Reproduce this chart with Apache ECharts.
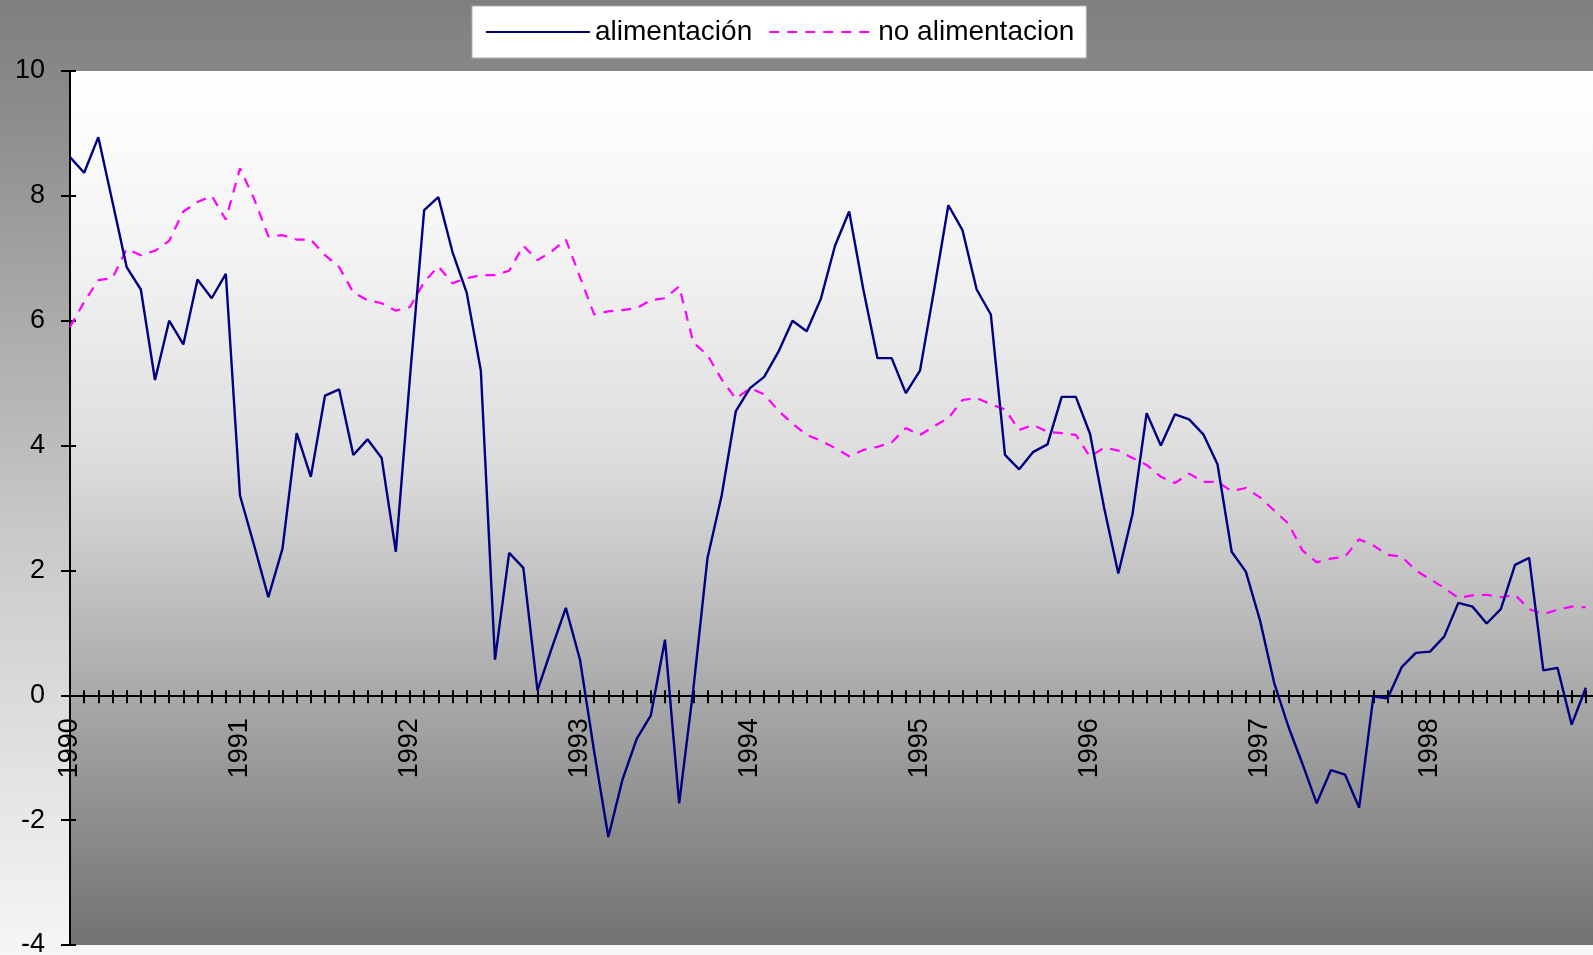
<!DOCTYPE html>
<html>
<head>
<meta charset="utf-8">
<script src="https://cdn.jsdelivr.net/npm/echarts@6/dist/echarts.min.js"></script>
<style>
html,body{margin:0;padding:0;}
#chart{width:1593px;height:955px;background:linear-gradient(to bottom,#7f7f7f 0%,#8a8a8a 10%,#c8c8c8 55%,#f6f6f6 100%);}
</style>
</head>
<body>
<div id="chart"></div>
<script>
// Monthly categories Jan 1990 .. Jan 1999 (last one only closes the axis)
const years = [1990,1991,1992,1993,1994,1995,1996,1997,1998,1999];
const months = [];
for (const y of years) { for (let m = 1; m <= 12; m++) { if (y === 1999 && m > 1) break; months.push(y + '-' + (m < 10 ? '0' + m : m)); } }

const alimentacion = [
  8.62, 8.37, 8.94, 7.9, 6.86, 6.5, 5.05, 6.0, 5.62, 6.66, 6.36, 6.75,
  3.2, 2.4, 1.57, 2.35, 4.2, 3.5, 4.8, 4.9, 3.85, 4.1, 3.8, 2.3,
  5.1, 7.77, 7.98, 7.1, 6.45, 5.2, 0.57, 2.28, 2.04, 0.08, 0.75, 1.4,
  0.57, -0.9, -2.27, -1.35, -0.7, -0.32, 0.89, -1.73, 0.1, 2.2, 3.2, 4.55,
  4.92, 5.1, 5.5, 6.0, 5.83, 6.35, 7.2, 7.75, 6.5, 5.4, 5.4, 4.84,
  5.2, 6.5, 7.85, 7.45, 6.5, 6.1, 3.85, 3.62, 3.9, 4.02, 4.78, 4.78,
  4.19, 3.0, 1.95, 2.9, 4.52, 4.0, 4.5, 4.42, 4.18, 3.7, 2.3, 1.98,
  1.2, 0.2, -0.5, -1.1, -1.73, -1.2, -1.27, -1.8, -0.02, -0.05, 0.45, 0.68,
  0.70, 0.94, 1.48, 1.42, 1.15, 1.38, 2.09, 2.2, 0.4, 0.44, -0.47, 0.12
];
const noAlimentacion = [
  5.9, 6.3, 6.65, 6.68, 7.15, 7.05, 7.12, 7.28, 7.75, 7.9, 8.0, 7.62,
  8.44, 7.95, 7.35, 7.37, 7.3, 7.3, 7.05, 6.86, 6.45, 6.33, 6.28, 6.16,
  6.22, 6.62, 6.87, 6.6, 6.68, 6.73, 6.73, 6.8, 7.2, 6.97, 7.11, 7.3,
  6.7, 6.1, 6.15, 6.17, 6.2, 6.33, 6.36, 6.55, 5.65, 5.45, 5.06, 4.75,
  4.92, 4.82, 4.56, 4.35, 4.17, 4.08, 3.96, 3.83, 3.93, 3.98, 4.05, 4.28,
  4.17, 4.31, 4.44, 4.73, 4.76, 4.66, 4.58, 4.25, 4.33, 4.22, 4.2, 4.17,
  3.82, 3.97, 3.92, 3.8, 3.69, 3.5, 3.4, 3.55, 3.42, 3.42, 3.27, 3.32,
  3.17, 2.96, 2.75, 2.32, 2.13, 2.19, 2.22, 2.5, 2.4, 2.25, 2.22, 2.0,
  1.86, 1.72, 1.56, 1.6, 1.61, 1.57, 1.61, 1.38, 1.3, 1.37, 1.42, 1.41
];
const yTicks = [-4, -2, 0, 2, 4, 6, 8, 10];
const seriesNames = ['alimentación', 'no alimentacion'];

const FONT = 'Liberation Sans, Arial, sans-serif';
const chart = echarts.init(document.getElementById('chart'), null, {renderer: 'canvas'});

const yearLabel = (v) => {
  const p = String(v).split('-');
  return (p[1] === '01' && +p[0] < 1999) ? p[0] : '';
};

// grid geometry (pixels)
const GRID_TOP = 71, GRID_BOTTOM = 10, CHART_H = 955;
const plotH = CHART_H - GRID_TOP - GRID_BOTTOM;
const zeroOffset = -plotH * (0 - (-4)) / (10 - (-4)); // move x axis up onto y = 0

chart.setOption({
  backgroundColor: 'transparent',
  animation: false,
  legend: {
    left: 472, top: 6,
    padding: [12, 12, 12, 13],
    backgroundColor: '#ffffff',
    borderColor: '#b0b0b0', borderWidth: 1, borderRadius: 0,
    itemWidth: 104, itemHeight: 16, itemGap: 16,
    itemStyle: {color: 'rgba(0,0,0,0)', borderColor: 'rgba(0,0,0,0)', borderWidth: 0},
    textStyle: {fontFamily: FONT, fontSize: 28, color: '#000'},
    data: seriesNames
  },
  grid: {
    left: 70, right: -7, top: GRID_TOP, bottom: GRID_BOTTOM,
    outerBoundsMode: 'none',
    containLabel: false,
    show: true, borderWidth: 0,
    backgroundColor: {
      type: 'linear', x: 0, y: 0, x2: 0, y2: 1,
      colorStops: [
        {offset: 0, color: '#ffffff'},
        {offset: 0.2, color: '#f4f4f4'},
        {offset: 0.45, color: '#dcdcdc'},
        {offset: 0.72, color: '#a8a8a8'},
        {offset: 1, color: '#727272'}
      ]
    }
  },
  xAxis: [{
    type: 'category', position: 'bottom', offset: zeroOffset, data: months, boundaryGap: false,
    axisLine: {onZero: false, lineStyle: {color: '#000', width: 2}},
    axisTick: {show: true, interval: 0, inside: false, length: 8, lineStyle: {color: '#000', width: 2}},
    axisLabel: {
      interval: (i) => i % 12 === 0 && i < 108,
      formatter: yearLabel, rotate: 90, margin: 23,
      fontFamily: FONT, fontSize: 27, color: '#000'
    },
    splitLine: {show: false}
  }, {
    type: 'category', position: 'bottom', offset: zeroOffset, data: months, boundaryGap: false,
    axisLine: {onZero: false, show: false},
    axisTick: {show: true, interval: 0, inside: true, length: 5, lineStyle: {color: '#000', width: 2}},
    axisLabel: {show: false},
    splitLine: {show: false}
  }],
  yAxis: [{
    type: 'value', min: -4, max: 10, interval: 2, position: 'left',
    axisLine: {show: true, onZero: false, lineStyle: {color: '#000', width: 2}},
    axisTick: {show: true, inside: false, length: 9, lineStyle: {color: '#000', width: 2}},
    axisLabel: {
      margin: 25, fontFamily: FONT, fontSize: 27, color: '#000',
      formatter: (v) => yTicks.indexOf(v) >= 0 ? String(v) : ''
    },
    splitLine: {show: false}
  }, {
    type: 'value', min: -4, max: 10, interval: 2, position: 'left',
    axisLine: {show: false, onZero: false},
    axisTick: {show: true, inside: true, length: 6, lineStyle: {color: '#000', width: 2}},
    axisLabel: {show: false},
    splitLine: {show: false}
  }],
  series: [{
    name: seriesNames[0], type: 'line', data: alimentacion,
    xAxisIndex: 0, yAxisIndex: 0,
    symbol: 'none', showSymbol: false,
    lineStyle: {color: '#000080', width: 2.4},
    itemStyle: {color: '#000080'},
    z: 3
  }, {
    name: seriesNames[1], type: 'line', data: noAlimentacion,
    xAxisIndex: 0, yAxisIndex: 0,
    symbol: 'none', showSymbol: false,
    lineStyle: {color: '#ff00ff', width: 2.2, type: [10, 8]},
    itemStyle: {color: '#ff00ff'},
    z: 2
  }]
});
</script>
</body>
</html>
